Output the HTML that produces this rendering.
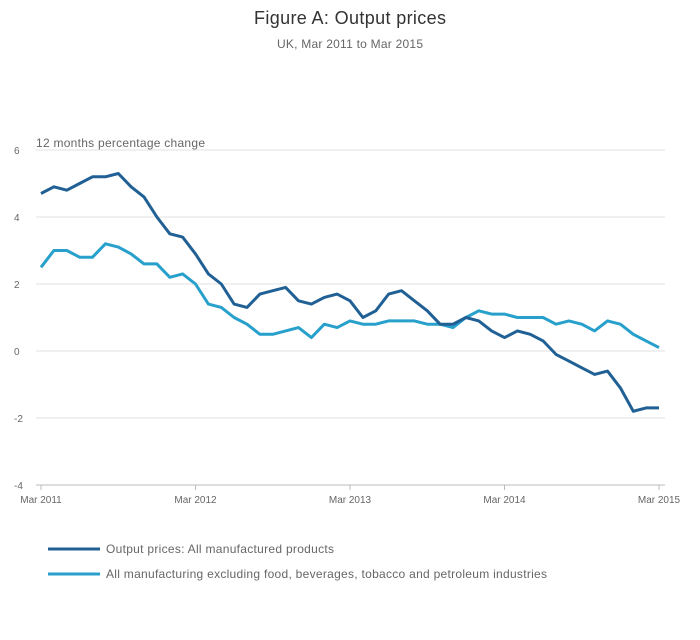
<!DOCTYPE html>
<html><head><meta charset="utf-8"><style>
body{margin:0;background:#fff;font-family:"Liberation Sans",sans-serif;}
svg text{font-family:"Liberation Sans",sans-serif;}
</style></head><body>
<svg id="chart" width="700" height="635">
<text x="350" y="24" text-anchor="middle" font-size="18" fill="#333" textLength="192">Figure A: Output prices</text>
<text x="350" y="48" text-anchor="middle" font-size="12" fill="#666" textLength="146">UK, Mar 2011 to Mar 2015</text>
<text x="36" y="147" font-size="12" fill="#666" textLength="169">12 months percentage change</text>
<g id="grid"></g><g id="xaxis"></g><g id="series"></g>
<g>
<line x1="48" y1="549" x2="100" y2="549" stroke="#206095" stroke-width="3"/>
<text x="106" y="553" font-size="12" fill="#666" textLength="228">Output prices: All manufactured products</text>
<line x1="48" y1="574" x2="100" y2="574" stroke="#27a0cc" stroke-width="3"/>
<text x="106" y="578" font-size="12" fill="#666" textLength="441">All manufacturing excluding food, beverages, tobacco and petroleum industries</text>
</g>
</svg>
<script>
const yTicks=[6,4,2,0,-2,-4];
const xTickLabels=["Mar 2011","Mar 2012","Mar 2013","Mar 2014","Mar 2015"];
const xTickIndex=[0,12,24,36,48];
const outputPrices=[4.7,4.9,4.8,5.0,5.2,5.2,5.3,4.9,4.6,4.0,3.5,3.4,2.9,2.3,2.0,1.4,1.3,1.7,1.8,1.9,1.5,1.4,1.6,1.7,1.5,1.0,1.2,1.7,1.8,1.5,1.2,0.8,0.8,1.0,0.9,0.6,0.4,0.6,0.5,0.3,-0.1,-0.3,-0.5,-0.7,-0.6,-1.1,-1.8,-1.7,-1.7];
const excluding=[2.5,3.0,3.0,2.8,2.8,3.2,3.1,2.9,2.6,2.6,2.2,2.3,2.0,1.4,1.3,1.0,0.8,0.5,0.5,0.6,0.7,0.4,0.8,0.7,0.9,0.8,0.8,0.9,0.9,0.9,0.8,0.8,0.7,1.0,1.2,1.1,1.1,1.0,1.0,1.0,0.8,0.9,0.8,0.6,0.9,0.8,0.5,0.3,0.1];
const NS="http://www.w3.org/2000/svg";
const x0=41,x1=659,n=49;
function xs(i){return x0+(x1-x0)*i/(n-1);}
function ys(v){return 351-v*(335/10);}
const grid=document.getElementById('grid');
yTicks.forEach(t=>{
 const l=document.createElementNS(NS,'line');
 l.setAttribute('x1',36);l.setAttribute('x2',665);l.setAttribute('y1',ys(t));l.setAttribute('y2',ys(t));
 l.setAttribute('stroke',t===-4?'#bbb':'#e2e2e2');l.setAttribute('stroke-width',1);
 
 
 grid.appendChild(l);
 const tx=document.createElementNS(NS,'text');
 tx.setAttribute('x',14);tx.setAttribute('y',ys(t)+4);tx.setAttribute('font-size',10);tx.setAttribute('fill','#666');
 tx.textContent=t;
 
 
 grid.appendChild(tx);
});
const xa=document.getElementById('xaxis');
xTickIndex.forEach((idx,k)=>{
 const l=document.createElementNS(NS,'line');
 l.setAttribute('x1',xs(idx));l.setAttribute('x2',xs(idx));l.setAttribute('y1',485);l.setAttribute('y2',490);l.setAttribute('stroke','#bbb');
 
 
 xa.appendChild(l);
 const tx=document.createElementNS(NS,'text');
 tx.setAttribute('x',xs(idx));tx.setAttribute('y',503);tx.setAttribute('font-size',10);tx.setAttribute('fill','#666');tx.setAttribute('text-anchor','middle');
 tx.textContent=xTickLabels[k];
 
 
 xa.appendChild(tx);
});
const sg=document.getElementById('series');
function draw(arr,color,name){
 const p=document.createElementNS(NS,'path');
 p.setAttribute('d',arr.map((v,i)=>(i?'L':'M')+xs(i).toFixed(1)+' '+ys(v).toFixed(1)).join(''));
 p.setAttribute('fill','none');p.setAttribute('stroke',color);p.setAttribute('stroke-width',3);p.setAttribute('stroke-linejoin','round');
 
 
 sg.appendChild(p);
}
draw(excluding,'#27a0cc','line-excluding');
draw(outputPrices,'#206095','line-output-prices');
</script>
</body></html>
